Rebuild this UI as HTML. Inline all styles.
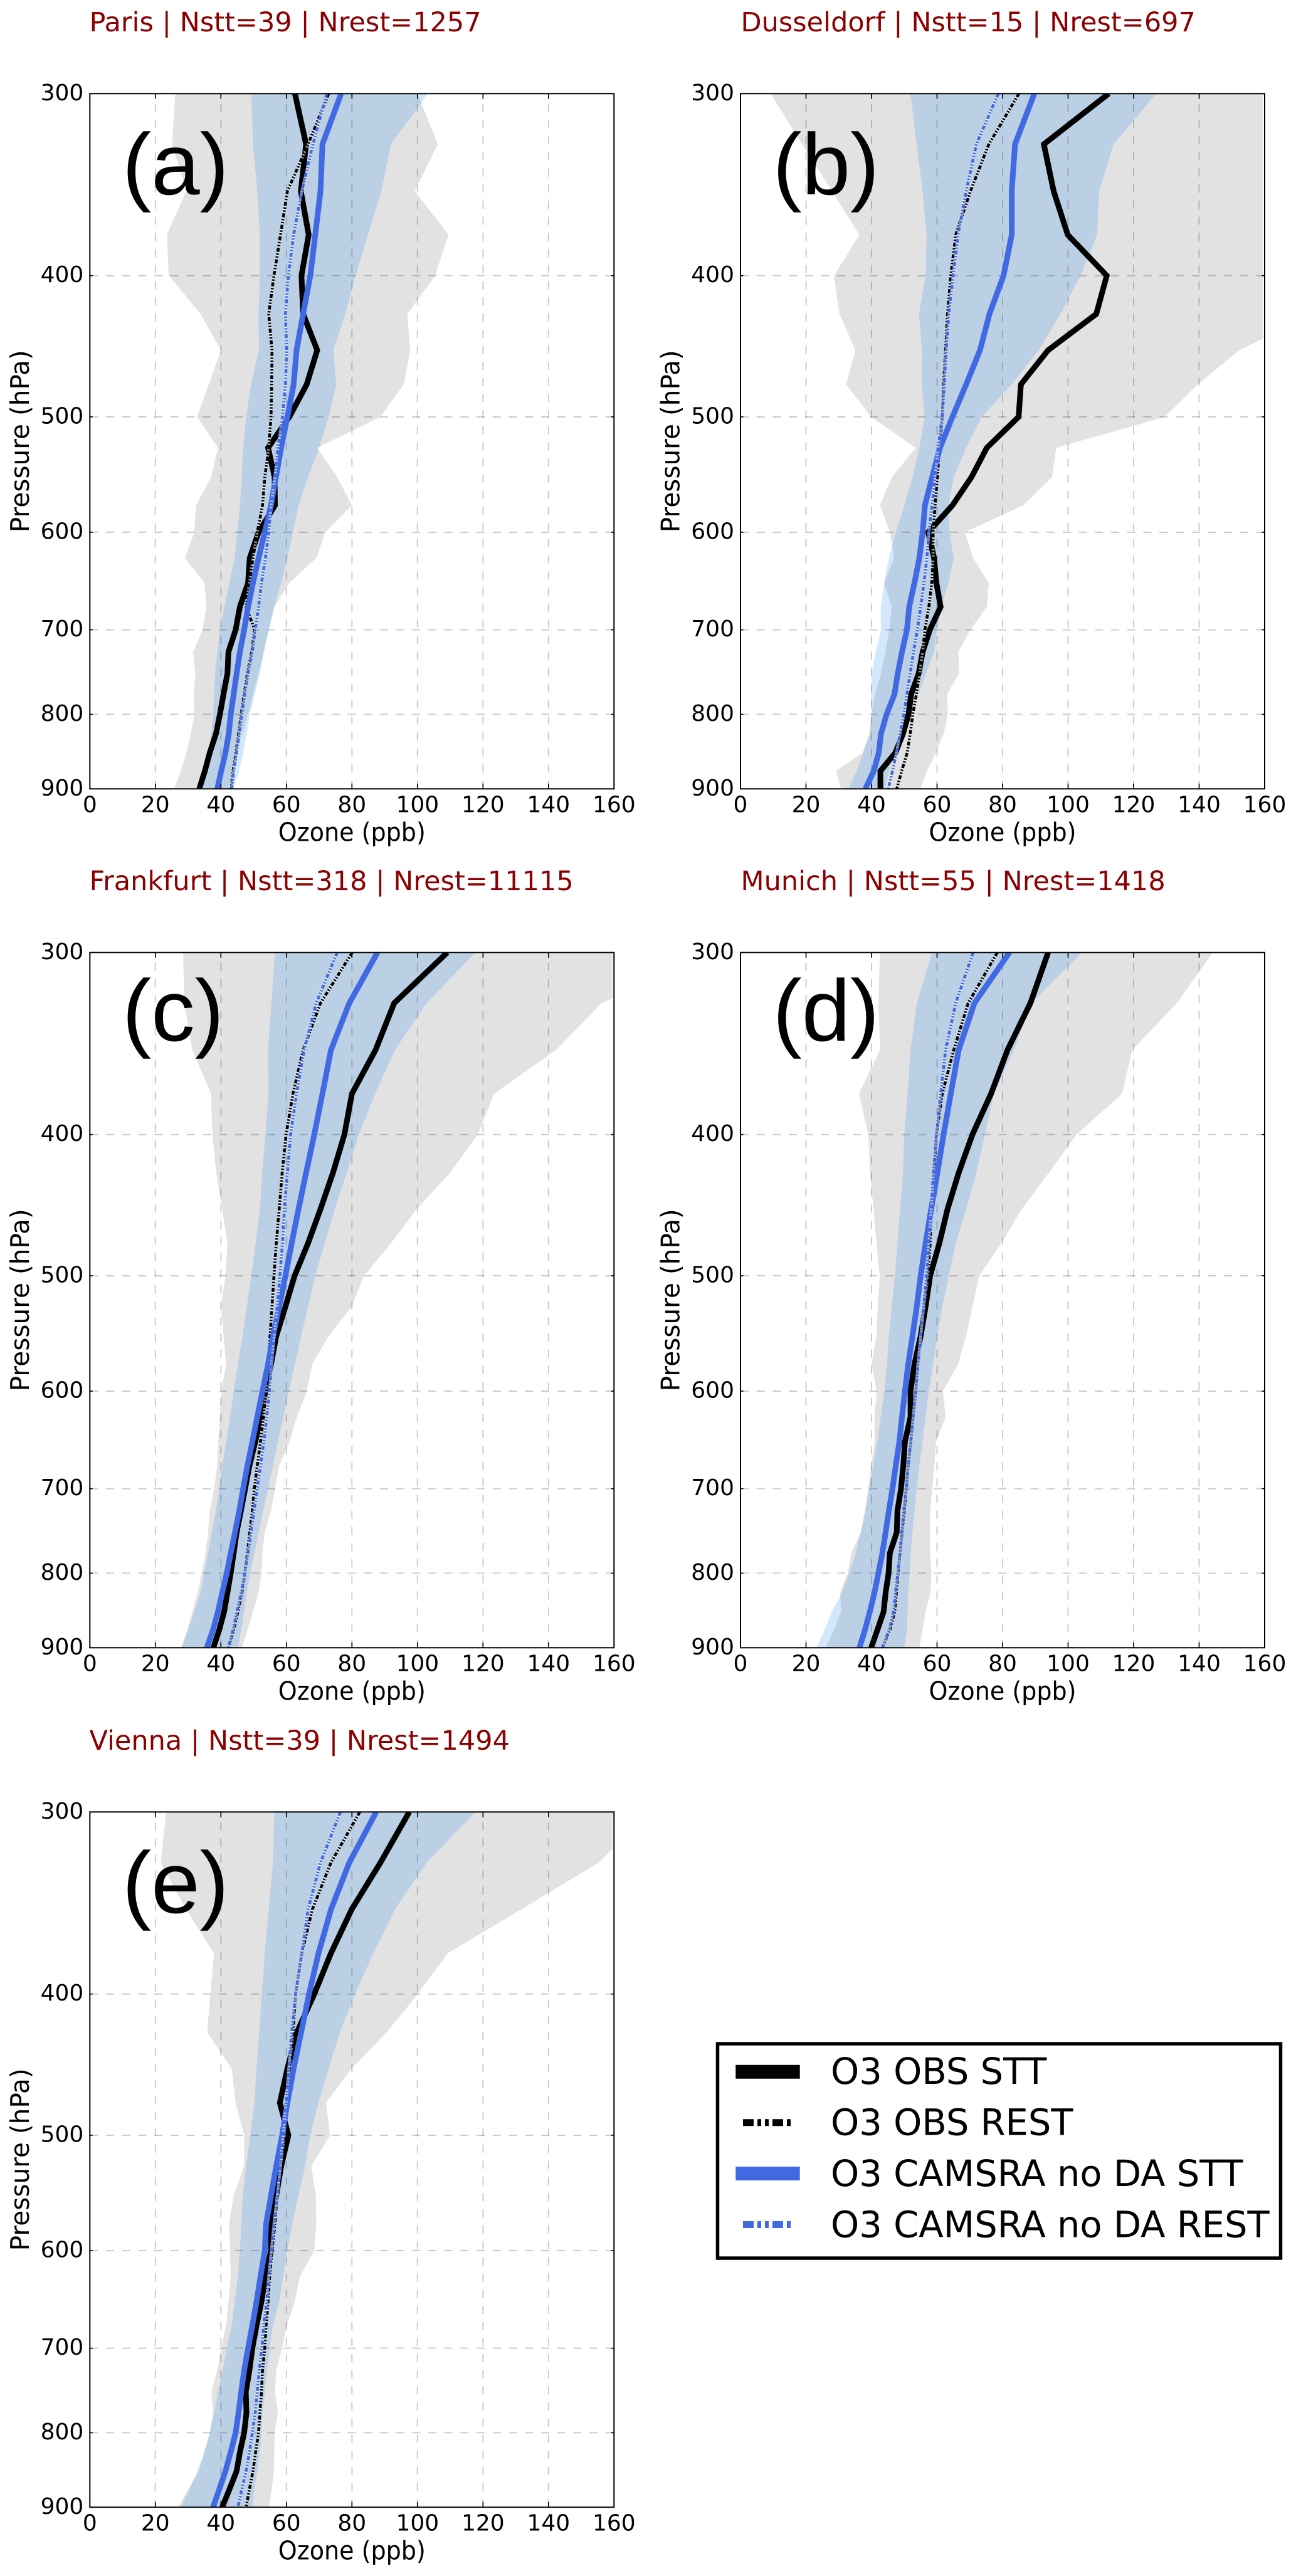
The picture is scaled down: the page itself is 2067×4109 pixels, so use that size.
<!DOCTYPE html>
<html lang="en">
<head>
<meta charset="utf-8">
<title>Ozone profiles by city</title>
<style>
html,body{margin:0;padding:0;background:#fff;}
svg{display:block;}
text{font-family:"DejaVu Sans","Liberation Sans",sans-serif;fill:#000;}
.title{font-size:43px;fill:#8b0000;}
.letter{font-family:"Liberation Sans",sans-serif;font-size:139px;}
.legend-text{font-size:57.5px;}
</style>
</head>
<body>
<svg id="figure" xmlns="http://www.w3.org/2000/svg" width="2067" height="4109" viewBox="0 0 2067 4109">
<rect x="0" y="0" width="2067" height="4109" fill="#fff"/>
<g id="plots"></g>

<text class="title" x="142.5" y="50">Paris | Nstt=39 | Nrest=1257</text>
<text class="title" x="1181.5" y="50">Dusseldorf | Nstt=15 | Nrest=697</text>
<text class="title" x="142.5" y="1420">Frankfurt | Nstt=318 | Nrest=11115</text>
<text class="title" x="1181.5" y="1420">Munich | Nstt=55 | Nrest=1418</text>
<text class="title" x="142.5" y="2791">Vienna | Nstt=39 | Nrest=1494</text>

<text class="letter" x="195" y="310">(a)</text>
<text class="letter" x="1232.5" y="310">(b)</text>
<text class="letter" x="195" y="1660">(c)</text>
<text class="letter" x="1232.5" y="1660">(d)</text>
<text class="letter" x="195" y="3051">(e)</text>

<g>
<rect x="1144.5" y="3260" width="898" height="342" fill="#fff" stroke="#000" stroke-width="5.5"/>
<line x1="1173.3" x2="1275.7" y1="3304.7" y2="3304.7" stroke="#000" stroke-width="22"/>
<line x1="1185" x2="1266" y1="3385.7" y2="3385.7" stroke="#000" stroke-width="11" stroke-dasharray="17 6 6 6 6 6"/>
<line x1="1173.3" x2="1275.7" y1="3467" y2="3467" stroke="#4169e1" stroke-width="22"/>
<line x1="1185" x2="1266" y1="3548.5" y2="3548.5" stroke="#4169e1" stroke-width="11" stroke-dasharray="17 6 6 6 6 6"/>
<text class="legend-text" x="1325" y="3324">O3 OBS STT</text>
<text class="legend-text" x="1325" y="3405.5">O3 OBS REST</text>
<text class="legend-text" x="1325" y="3487">O3 CAMSRA no DA STT</text>
<text class="legend-text" x="1325" y="3568.5">O3 CAMSRA no DA REST</text>
</g>
</svg>

<script>
const pressureLevels = [300,325,350,375,400,425,450,475,500,525,550,575,600,625,650,675,700,725,750,775,800,825,850,875,900];
const xTickLabels = [0,20,40,60,80,100,120,140,160];
const yTickLabels = [300,400,500,600,700,800,900];

const parisGreyLow = [26.1,25.1,29.4,23.5,24.1,33.8,40,36.3,32.7,39.1,37,32.4,31.9,29,35,35.6,34.4,31.5,32.2,31.7,31.9,30.8,29.5,27.8,25.7];
const parisGreyHigh = [100,106.2,99.2,109.5,105.4,96.9,97.8,95.8,88.7,69.4,75.5,80,71.9,69.1,60.9,56.3,54.6,53.1,51.5,49.8,48.3,46.5,44.5,43.3,42.4];
const parisBlueLow = [49.3,49.8,51.1,51.9,51.9,51.5,51.6,49.2,47.7,46.8,46.4,45.8,45,44.2,42.6,41.1,39.7,38.9,38.2,38,37.6,37,36.3,35.3,34.4];
const parisBlueHigh = [103.2,91.9,89,84.9,81.1,78,74.3,75.2,72.9,70,66.6,63.7,62,60.3,58.4,56.3,54.6,53.1,51.9,50.3,48.8,47.9,46.8,45.6,43.9];
const parisObsStt = [62.6,66,64.4,66.8,64.6,65.1,69.4,66.2,60.9,54.4,56.4,56.5,51.5,48.8,48.3,45.8,44.5,42.3,42,40.8,39.7,38.5,36.6,35.1,33.4];
const parisObsRest = [72.9,66.6,60.3,58.2,56.2,54.6,55.6,55.5,55.3,54.6,53.4,52.7,51.1,49.8,48.7,47.7,50.3,49.4,48.1,47.1,46.2,45.4,44.6,43.7,43.1];
const parisCamsStt = [76.7,71,70.4,68.8,67.3,65.1,63.1,62.2,60.3,58.4,56.8,55.3,53.4,51.5,49.8,48.3,47.1,45.8,44.8,43.9,43,42.4,41.4,40.1,38.9];
const parisCamsRest = [72.3,68.1,64.7,62.2,60.6,59.7,60.1,59.7,58.8,57.4,56.5,55.3,54.6,53.6,52.4,51.5,50.5,49.6,48.3,47.3,46.4,45.6,44.8,43.9,43.3];

const dusseldorfGreyLow = [9.2,18.8,27.9,36.3,28.5,30.2,35.1,32.2,39.9,53.5,46.2,42.6,45.6,46.9,43.9,46.2,45.4,44.2,42.9,41,40,39.4,37.3,29.1,30.7];
const dusseldorfGreyHigh = [200,200,200,200,200,175,152.2,139.6,129.5,96.4,95.1,86.3,68.5,71,75.8,75.2,70.2,66.5,66.8,63,63.3,62,59.7,56.9,54.9];
const dusseldorfBlueLow = [51.9,53.8,55.6,56.8,56.5,54.5,55.4,55.3,56.2,54.6,52.5,50,47.4,45.3,43.9,42.8,42.9,41.3,40,39.8,40,39.4,37.5,35.5,32.9];
const dusseldorfBlueHigh = [126.9,113.9,109.5,108.9,103.8,97.7,91,82.8,73.7,68.9,65.1,63.5,63.8,65.1,63.5,61.3,59.9,59.1,56.6,54.4,51.5,48.2,46.7,45.4,44.1];
const dusseldorfObsStt = [112.4,92.6,95.6,99.9,111.8,108.6,93.9,85.6,84.9,75.2,70.5,64.7,57.3,59.1,59.8,61.1,57.8,55.6,54.4,52.1,51.3,49.6,47.3,42.7,42.7];
const dusseldorfObsRest = [85,75.8,70.2,65.7,64.2,63.2,62.6,62,61.6,60.7,60.1,59.4,58.8,58.8,58.4,57.5,56.3,55.6,54.7,53.7,52.6,51.8,50.9,49.2,47.7];
const dusseldorfCamsStt = [89.7,83.8,82.8,82.8,80.3,76,73.1,68.9,64.7,60.9,58.5,56.3,55.6,54.6,53.1,51.5,50.8,49.3,48,47,44.6,42.9,42.2,40.7,38.1];
const dusseldorfCamsRest = [78.7,72,68.9,66.4,64.9,63.6,62.8,62.2,61.6,60.3,59.4,58.5,57.5,56.9,56,55,54,52.8,51.8,50.8,49.9,48.7,47.6,46.4,45.1];

const frankfurtGreyLow = [28.5,28.8,31.3,37,37.4,38.6,40.4,42,41.4,40,40.8,41.6,40.1,39.7,39.2,38.9,37.9,36.6,36.1,35.3,34.1,32.9,31.3,29.7,27.8];
const frankfurtGreyHigh = [192,156.2,142.3,123.4,118.4,109.9,99.8,91.9,83.7,79.9,72.9,67.9,66.2,63.2,60.9,57.8,56.5,55.3,53.4,52.7,52.4,51.5,49.8,48.1,46.4];
const frankfurtBlueLow = [56.5,55.4,54.4,54.5,53.6,52.6,51.9,50.6,49.3,47.9,46.6,45.2,43.9,42.8,41.6,40.4,39.5,38.5,37.2,36.1,34.8,33.8,31.9,30,28.1];
const frankfurtBlueHigh = [117.7,102.8,93.1,87.1,82.1,78.4,74.8,71.7,68.8,66.6,64.5,62.6,60.7,59.1,57.4,55.9,54.4,52.9,51.5,50.2,49,47.9,47.1,46.2,45.2];
const frankfurtObsStt = [109.1,92.9,87.2,80,77.7,74.2,70.4,66.6,62.5,59.7,56.9,55.3,53.6,52.1,50.5,48.7,47.4,46.1,44.8,43.9,43,42,41,39.5,37.7];
const frankfurtObsRest = [80.1,70.4,65.1,62,59.9,58.7,57.8,56.9,56.2,55.6,55,54.4,53.8,53,52.1,51.1,50.2,49.6,48.8,48.1,47.3,46.4,45.2,43.9,42.3];
const frankfurtCamsStt = [87.8,79.2,73.6,71,68.5,66,63.7,61.6,59.7,57.8,55.9,54.4,52.7,51.1,49.6,48.1,46.8,45.6,44.3,43,41.8,40.4,39.1,37.6,35.7];
const frankfurtCamsRest = [75.5,69.1,65.4,63.1,61.3,60.3,59.4,58.8,58,57.2,56.3,55.5,54.8,54,53.1,52.1,51.1,50.1,49.2,48.3,47.3,46.2,44.9,43.7,42.3];

const munichGreyLow = [42.6,42.1,42.6,36.2,39,39.5,40.6,41.5,42.5,41.9,41.5,40,41.6,40.9,40.9,39.9,39,38,36.7,33.8,32.7,30.4,30.7,28.5,26];
const munichGreyHigh = [144.2,133.2,119.6,116.5,102.6,94.1,85.9,79.6,72.9,70.8,68.9,66.4,61.8,62.6,59.7,59.2,58.5,57.9,57.9,57.9,58.3,58,56.5,55.6,54.6];
const munichBlueLow = [58.5,53.8,51.9,51,50,49.6,48.7,47.9,47.1,46.2,45.3,44.7,43.9,42.8,41.8,40.5,39.2,38.2,36.7,35.1,33.2,31,27.9,25.7,23.2];
const munichBlueHigh = [104.2,88.8,83.4,77.4,74.6,72,68.9,65.7,63.6,61.6,60.1,58.8,57.5,56.5,55.6,54.6,53.8,53.1,52.5,52,51.6,51.2,51,50.9,50];
const munichObsStt = [93.9,88.5,81.5,76.5,70.8,66.6,63.2,60.7,57.9,56.5,55,53.1,51.9,51.9,50.2,49.7,49,47.9,47.7,45.6,45.2,44.3,43.7,41.8,39.9];
const munichObsRest = [78.4,69.5,65.1,61.6,59.8,59.1,58.2,57.9,57.2,56,55,54.1,53.5,52.7,52,51.2,50.6,50,49.3,48.7,48.1,47.6,47.1,45.6,43.3];
const munichCamsStt = [82.1,71.4,66.6,64.2,62,60.1,58.2,56.5,55,53.8,52.5,51.2,50.2,49.3,48.5,47.4,46.4,45.3,44.3,43.3,42.1,40.9,39.5,38,36.3];
const munichCamsRest = [71,65.7,62.6,61.1,59.8,58.9,58.2,57.5,56.8,55.9,55,54.2,53.5,52.7,52,51.2,50.6,49.8,49.2,48.7,48,47.3,46.7,45.4,43.3];

const viennaGreyLow = [23.3,21.6,29.4,37.9,36.8,35.8,43.3,44.5,47.1,47.1,43.9,42.5,42.8,43,42.3,41.6,40.1,38.9,37.1,37.6,36.6,35.1,33.2,30,26.9];
const viennaGreyHigh = [171,155.3,131.6,109.3,100.1,90.6,79.9,72.1,73.3,67.6,69,69.1,68.5,64.1,62.6,60.1,58.7,56.9,56.5,57.4,56.4,56.3,56.2,55.5,54.6];
const viennaBlueLow = [56.3,55.9,54.6,53.4,52.5,51.7,50.9,50.2,49,47.7,46.7,46.2,45.8,45.2,44.2,43.3,41.8,40.5,39.2,38,36.6,34.8,32.9,30.4,27.8];
const viennaBlueHigh = [117.7,102.8,93.1,86.6,80.9,76.3,72.9,69.8,67.3,65.7,63.7,61.8,60.3,59,57.8,55.9,54.9,54,53.4,52.7,52.4,51.9,51.1,50.2,49.6];
const viennaObsStt = [97.5,88.7,79.9,73.6,68.5,63.2,60.3,58,60.6,58.4,56.9,55.3,55.3,53.6,52.4,50.9,49.6,48.7,47.6,47.8,47.1,45.8,44.8,42.6,40.4];
const viennaObsRest = [82.4,73.6,67.9,64.7,62.8,62,60.9,60.1,59.4,58.2,57.2,56.5,55.6,54.9,54.4,53.8,53.4,52.7,52.4,51.9,51.5,50.6,49.8,48.7,47.7];
const viennaCamsStt = [87.4,79.2,73.6,69.8,66.9,64.5,62.2,60.3,58.7,56.9,55.3,53.8,53.4,52.1,50.9,49.6,48.3,47.1,46.2,45.4,44.5,43,41.4,39.5,37.6];
const viennaCamsRest = [76.5,70.4,66.6,64.7,62.8,61.6,60.7,59.9,59,58.2,57.2,56.2,55.4,54.6,54,53.1,52.5,51.7,51.1,50.5,49.6,48.7,47.7,46.4,45.2];

const panels = [
  {id:'paris', left:143.3, top:149.3, greyLow:parisGreyLow, greyHigh:parisGreyHigh, blueLow:parisBlueLow, blueHigh:parisBlueHigh, obsStt:parisObsStt, obsRest:parisObsRest, camsStt:parisCamsStt, camsRest:parisCamsRest},
  {id:'dusseldorf', left:1181, top:149.3, greyLow:dusseldorfGreyLow, greyHigh:dusseldorfGreyHigh, blueLow:dusseldorfBlueLow, blueHigh:dusseldorfBlueHigh, obsStt:dusseldorfObsStt, obsRest:dusseldorfObsRest, camsStt:dusseldorfCamsStt, camsRest:dusseldorfCamsRest},
  {id:'frankfurt', left:143.3, top:1519.3, greyLow:frankfurtGreyLow, greyHigh:frankfurtGreyHigh, blueLow:frankfurtBlueLow, blueHigh:frankfurtBlueHigh, obsStt:frankfurtObsStt, obsRest:frankfurtObsRest, camsStt:frankfurtCamsStt, camsRest:frankfurtCamsRest},
  {id:'munich', left:1181, top:1519.3, greyLow:munichGreyLow, greyHigh:munichGreyHigh, blueLow:munichBlueLow, blueHigh:munichBlueHigh, obsStt:munichObsStt, obsRest:munichObsRest, camsStt:munichCamsStt, camsRest:munichCamsRest},
  {id:'vienna', left:143.3, top:2890.3, greyLow:viennaGreyLow, greyHigh:viennaGreyHigh, blueLow:viennaBlueLow, blueHigh:viennaBlueHigh, obsStt:viennaObsStt, obsRest:viennaObsRest, camsStt:viennaCamsStt, camsRest:viennaCamsRest}
];

const PLOT_W = 836;
const PLOT_H = 1109;
const X_MAX = 160;
const P_MIN = 300;
const P_MAX = 900;
const NS = 'http://www.w3.org/2000/svg';

function svgEl(tag, attrs, parent) {
  const el = document.createElementNS(NS, tag);
  for (const k in attrs) el.setAttribute(k, attrs[k]);
  parent.appendChild(el);
  return el;
}
function xAxis(panel, v) { return panel.left + v / X_MAX * PLOT_W; }
function yAxis(panel, p) { return panel.top + Math.log(p / P_MIN) / Math.log(P_MAX / P_MIN) * PLOT_H; }
function linePath(panel, values) {
  return values.map((v, i) => (i ? 'L' : 'M') + xAxis(panel, v).toFixed(2) + ' ' + yAxis(panel, pressureLevels[i]).toFixed(2)).join(' ');
}
function bandPath(panel, low, high) {
  const back = high.slice().reverse().map((v, i) => 'L' + xAxis(panel, v).toFixed(2) + ' ' + yAxis(panel, pressureLevels[high.length - 1 - i]).toFixed(2)).join(' ');
  return linePath(panel, low) + ' ' + back + ' Z';
}

const root = document.getElementById('plots');
panels.forEach(function (panel) {
  const g = svgEl('g', {}, root);
  
  

  const right = panel.left + PLOT_W;
  const bottom = panel.top + PLOT_H;

  const clip = svgEl('clipPath', {id: 'clip-' + panel.id}, g);
  svgEl('rect', {x: panel.left, y: panel.top, width: PLOT_W, height: PLOT_H}, clip);

  const bandClip = svgEl('clipPath', {id: 'band-clip-' + panel.id}, g);
  svgEl('rect', {x: panel.left, y: panel.top, width: PLOT_W - 2.6, height: PLOT_H}, bandClip);

  const inner = svgEl('g', {'clip-path': 'url(#clip-' + panel.id + ')'}, g);
  
  

  const obsBand = svgEl('path', {d: bandPath(panel, panel.greyLow, panel.greyHigh), fill: '#e2e2e2', 'clip-path': 'url(#band-clip-' + panel.id + ')'}, inner);
  
  

  const camsBand = svgEl('path', {d: bandPath(panel, panel.blueLow, panel.blueHigh), fill: 'rgb(35,140,245)', 'fill-opacity': 0.2}, inner);
  
  

  xTickLabels.slice(1, -1).forEach(function (t) {
    const grid = svgEl('line', {x1: xAxis(panel, t), x2: xAxis(panel, t), y1: bottom, y2: panel.top, stroke: 'rgba(0,0,0,0.2)', 'stroke-width': 2, 'stroke-dasharray': '13 12.7'}, inner);
    
    
  });
  yTickLabels.slice(1, -1).forEach(function (t) {
    const grid = svgEl('line', {x1: panel.left, x2: right, y1: yAxis(panel, t), y2: yAxis(panel, t), stroke: 'rgba(0,0,0,0.2)', 'stroke-width': 2, 'stroke-dasharray': '13 12.7'}, inner);
    
    
  });

  const obsStt = svgEl('path', {d: linePath(panel, panel.obsStt), fill: 'none', stroke: '#000', 'stroke-width': 9, 'stroke-linejoin': 'miter'}, inner);
  
  

  const obsRestHalo = svgEl('path', {d: linePath(panel, panel.obsRest), fill: 'none', stroke: '#fff', 'stroke-opacity': 0.6, 'stroke-width': 4.5}, inner);
  
  

  const obsRest = svgEl('path', {d: linePath(panel, panel.obsRest), fill: 'none', stroke: '#000', 'stroke-width': 4.5, 'stroke-dasharray': '6.6 2.4 2.4 2.4 2.4 2.4'}, inner);
  
  

  const camsStt = svgEl('path', {d: linePath(panel, panel.camsStt), fill: 'none', stroke: '#4169e1', 'stroke-width': 9}, inner);
  
  

  const camsRestHalo = svgEl('path', {d: linePath(panel, panel.camsRest), fill: 'none', stroke: '#fff', 'stroke-opacity': 0.6, 'stroke-width': 4.5}, inner);
  
  

  const camsRest = svgEl('path', {d: linePath(panel, panel.camsRest), fill: 'none', stroke: '#4169e1', 'stroke-width': 4.5, 'stroke-dasharray': '6.6 2.4 2.4 2.4 2.4 2.4'}, inner);
  
  

  const frame = svgEl('rect', {x: panel.left, y: panel.top, width: PLOT_W, height: PLOT_H, fill: 'none', stroke: '#000', 'stroke-width': 2}, g);
  
  

  xTickLabels.forEach(function (t) {
    const x = xAxis(panel, t);
    const tickB = svgEl('line', {x1: x, x2: x, y1: bottom, y2: bottom - 8.5, stroke: '#000', 'stroke-width': 1.6}, g);
    
    
    const tickT = svgEl('line', {x1: x, x2: x, y1: panel.top, y2: panel.top + 8.5, stroke: '#000', 'stroke-width': 1.6}, g);
    
    
    const label = svgEl('text', {x: x, y: bottom + 37, 'text-anchor': 'middle', 'font-size': 36}, g);
    label.textContent = t;
    
    
  });

  yTickLabels.forEach(function (t) {
    const y = yAxis(panel, t);
    const tickL = svgEl('line', {x1: panel.left, x2: panel.left + 4.5, y1: y, y2: y, stroke: '#000', 'stroke-width': 1.6}, g);
    
    
    const tickR = svgEl('line', {x1: right, x2: right - 4.5, y1: y, y2: y, stroke: '#000', 'stroke-width': 1.6}, g);
    
    
    const label = svgEl('text', {x: panel.left - 10, y: y + 10.5, 'text-anchor': 'end', 'font-size': 36}, g);
    label.textContent = t;
    
    
  });

  const xTitle = svgEl('text', {x: panel.left + PLOT_W / 2, y: bottom + 83, 'text-anchor': 'middle', 'font-size': 40.6, textLength: 235, lengthAdjust: 'spacingAndGlyphs'}, g);
  xTitle.textContent = 'Ozone (ppb)';
  
  

  const yx = panel.left - 97.5;
  const yy = panel.top + PLOT_H / 2;
  const yTitle = svgEl('text', {x: yx, y: yy, 'text-anchor': 'middle', 'font-size': 40.6, transform: 'rotate(-90 ' + yx + ' ' + yy + ')'}, g);
  yTitle.textContent = 'Pressure (hPa)';
  
  
});
</script>
</body>
</html>
